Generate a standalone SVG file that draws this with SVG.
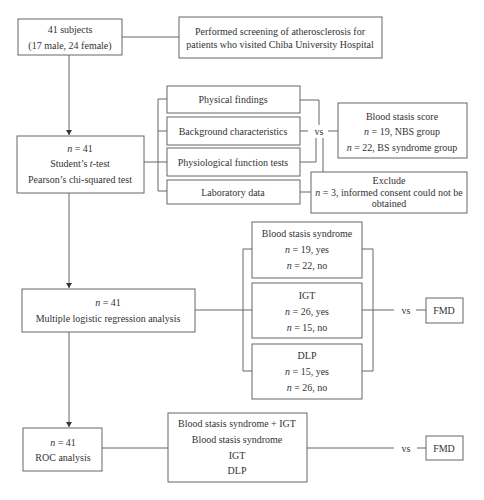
<svg xmlns="http://www.w3.org/2000/svg" width="484" height="500" viewBox="0 0 484 500">
<style>
.b{fill:#fff;stroke:#666;stroke-width:1}
.l{fill:none;stroke:#666;stroke-width:1}
text{font-family:"Liberation Serif","Times New Roman",serif;font-size:10px;fill:#333;text-anchor:middle;dominant-baseline:central}
.i{font-style:italic}
</style>
<defs>
<marker id="ah" markerWidth="6" markerHeight="6" refX="5" refY="3" orient="auto" markerUnits="userSpaceOnUse">
<path d="M0,0 L5,3 L0,6 Z" fill="#333"/>
</marker>
</defs>
<rect width="484" height="500" fill="#fff"/>
<g id="connectors">
<path class="l" d="M122,37 H179"/>
<path class="l" d="M69,55 V135" marker-end="url(#ah)"/>
<path class="l" d="M69,193 V288" marker-end="url(#ah)"/>
<path class="l" d="M69,332 V427" marker-end="url(#ah)"/>
<path class="l" d="M144,162 H158 M158,99 V191 M158,99 H167 M158,131 H167 M158,162 H167 M158,191 H167"/>
<path class="l" d="M300,100 H319 V125 M300,131 H308 M300,162 H316 V138 M328,131 H338 M323,138 V172 M300,192 H311"/>
<path class="l" d="M195,310 H243 M243,249 V371 M243,249 H252 M243,310 H252 M243,371 H252"/>
<path class="l" d="M362,249 H373 M362,310 H394 M362,371 H373 M373,249 V371 M416,310 H426"/>
<path class="l" d="M102,448 H168 M307,448 H394 M417,448 H426"/>
</g>
<g id="subjects"><rect class="b" x="18" y="19" width="104" height="36"/><text x="70" y="29">41 subjects</text><text x="70" y="45">(17 male, 24 female)</text></g>
<g id="screening"><rect class="b" x="179" y="17" width="203" height="41"/><text x="280" y="31">Performed screening of atherosclerosis for</text><text x="280" y="44">patients who visited Chiba University Hospital</text></g>
<g id="ttest"><rect class="b" x="17" y="136" width="127" height="57"/><text x="80" y="148"><tspan class="i">n</tspan> = 41</text><text x="80" y="163">Student’s <tspan class="i">t</tspan>-test</text><text x="80" y="179">Pearson’s chi-squared test</text></g>
<g id="physical"><rect class="b" x="167" y="86" width="133" height="27"/><text x="233" y="99">Physical findings</text></g>
<g id="background"><rect class="b" x="167" y="117" width="133" height="28"/><text x="233" y="131">Background characteristics</text></g>
<g id="physiological"><rect class="b" x="167" y="148" width="133" height="28"/><text x="233" y="162">Physiological function tests</text></g>
<g id="laboratory"><rect class="b" x="167" y="180" width="133" height="24"/><text x="233" y="192">Laboratory data</text></g>
<g id="vs1"><text x="319" y="131">vs</text></g>
<g id="bss"><rect class="b" x="338" y="103" width="129" height="55"/><text x="402" y="116">Blood stasis score</text><text x="402" y="131"><tspan class="i">n</tspan> = 19, NBS group</text><text x="402" y="147"><tspan class="i">n</tspan> = 22, BS syndrome group</text></g>
<g id="exclude"><rect class="b" x="311" y="172" width="156" height="41"/><text x="389" y="180">Exclude</text><text x="389" y="192"><tspan class="i">n</tspan> = 3, informed consent could not be</text><text x="389" y="203">obtained</text></g>
<g id="mlr"><rect class="b" x="22" y="289" width="173" height="43"/><text x="108" y="302"><tspan class="i">n</tspan> = 41</text><text x="108" y="318">Multiple logistic regression analysis</text></g>
<g id="bsyn"><rect class="b" x="252" y="222" width="110" height="56"/><text x="307" y="233">Blood stasis syndrome</text><text x="307" y="249"><tspan class="i">n</tspan> = 19, yes</text><text x="307" y="265"><tspan class="i">n</tspan> = 22, no</text></g>
<g id="igt"><rect class="b" x="252" y="283" width="110" height="55"/><text x="307" y="295">IGT</text><text x="307" y="311"><tspan class="i">n</tspan> = 26, yes</text><text x="307" y="327"><tspan class="i">n</tspan> = 15, no</text></g>
<g id="dlp"><rect class="b" x="252" y="344" width="110" height="55"/><text x="307" y="355">DLP</text><text x="307" y="371"><tspan class="i">n</tspan> = 15, yes</text><text x="307" y="387"><tspan class="i">n</tspan> = 26, no</text></g>
<g id="vs2"><text x="406" y="310">vs</text></g>
<g id="fmd1"><rect class="b" x="426" y="298" width="37" height="25"/><text x="444" y="310">FMD</text></g>
<g id="roc"><rect class="b" x="23" y="428" width="79" height="43"/><text x="63" y="442"><tspan class="i">n</tspan> = 41</text><text x="63" y="457">ROC analysis</text></g>
<g id="combo"><rect class="b" x="168" y="413" width="139" height="69"/><text x="237" y="423">Blood stasis syndrome + IGT</text><text x="237" y="439">Blood stasis syndrome</text><text x="237" y="455">IGT</text><text x="237" y="470">DLP</text></g>
<g id="vs3"><text x="406" y="448">vs</text></g>
<g id="fmd2"><rect class="b" x="426" y="436" width="37" height="24"/><text x="444" y="448">FMD</text></g>
</svg>
